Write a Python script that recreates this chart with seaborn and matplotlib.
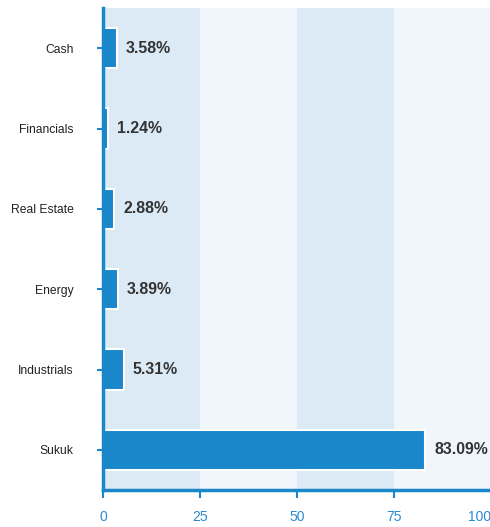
import matplotlib
matplotlib.use('Agg')
import matplotlib.pyplot as plt
import seaborn as sns
import pandas as pd

# Data
sectors = ['Cash', 'Financials', 'Real Estate', 'Energy', 'Industrials', 'Sukuk']
weights = [3.58, 1.24, 2.88, 3.89, 5.31, 83.09]
x_ticks = [0, 25, 50, 75, 100]

blue = '#1a87cb'
band_dark = '#dbeaf5'
band_light = '#f0f6fb'

sns.set_theme(style='white')
plt.rcParams['font.family'] = ['Liberation Sans', 'DejaVu Sans']

df = pd.DataFrame({'sector': sectors, 'weight': weights})

fig = plt.figure(figsize=(4.9, 5.27), dpi=100)
ax = fig.add_axes([103 / 490, 37 / 527, 388 / 490, 482 / 527])

# Alternating background bands
for i in range(len(x_ticks) - 1):
    ax.axvspan(x_ticks[i], x_ticks[i + 1],
               color=band_dark if i % 2 == 0 else band_light, zorder=0, lw=0)

sns.barplot(data=df, x='weight', y='sector', orient='h', color=blue,
            saturation=1, width=0.5, edgecolor='white', linewidth=1.5,
            ax=ax, zorder=2)

for i, v in enumerate(weights):
    ax.text(v + 2.3, i, f'{v:.2f}%', va='center', ha='left',
            fontsize=11.4, fontweight='bold', color='#333333', zorder=3)

ax.set_xlim(0, 100)
ax.set_ylim(len(sectors) - 0.5, -0.5)
ax.set_xticks(x_ticks)
ax.set_xlabel('')
ax.set_ylabel('')

for side in ['top', 'right']:
    ax.spines[side].set_visible(False)
for side in ['left', 'bottom']:
    ax.spines[side].set_color(blue)
    ax.spines[side].set_linewidth(2.5)
    ax.spines[side].set_zorder(4)

ax.tick_params(axis='x', colors=blue, length=5.5, width=1.5, labelsize=10,
               pad=9, direction='out', bottom=True)
ax.tick_params(axis='y', colors=blue, length=4.3, width=1.5, labelsize=8.7,
               pad=17, direction='out', left=True)
for lbl in ax.get_yticklabels():
    lbl.set_color('#222222')
xlabels = ax.get_xticklabels()
for lbl in xlabels:
    lbl.set_color('#2b8ad0')
# keep the last label inside the figure
xlabels[-1].set_horizontalalignment('right')

fig.savefig('out.png', dpi=100)
